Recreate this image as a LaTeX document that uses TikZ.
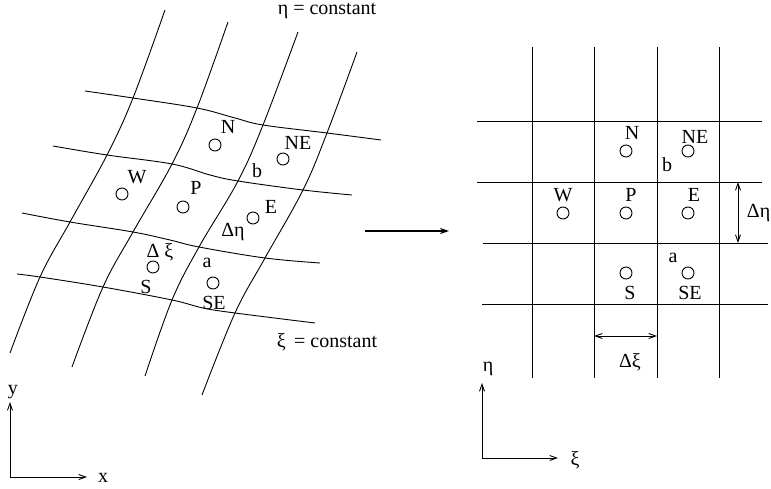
\documentclass[tikz,border=0pt]{standalone}
\usepackage{fontspec}
\setmainfont{Liberation Serif}
\usetikzlibrary{arrows.meta}
\tikzset{
  gl/.style={line width=0.9pt, line join=round},
  pt/.style={circle, draw, line width=0.9pt, minimum size=12pt, inner sep=0pt},
  lbl/.style={inner sep=0pt, font=\fontsize{20}{22}\selectfont},
  axis/.style={line width=0.9pt, -{Straight Barb[length=7pt,width=5pt]}},
  dim/.style={line width=0.9pt, {Straight Barb[length=7pt,width=5pt]}-{Straight Barb[length=7pt,width=5pt]}},
  big/.style={line width=2.2pt, -{Stealth[length=9pt,width=6pt]}}
}
\begin{document}
\begin{tikzpicture}[x=1pt,y=-1pt]
\useasboundingbox (0,0) rectangle (771,489);
% ---------- left curvilinear grid ----------
\draw[gl] plot[smooth, tension=0.6] coordinates {(165,10) (133,98) (107,155) (70,222) (40,277) (10,353)};
\draw[gl] plot[smooth, tension=0.6] coordinates {(228,22) (197,108) (172,164) (133,232) (103,287) (72,367)};
\draw[gl] plot[smooth, tension=0.6] coordinates {(298,32) (263,125) (238,181) (199,247) (172,300) (145,376)};
\draw[gl] plot[smooth, tension=0.6] coordinates {(357,52) (327,133) (303,190) (265,258) (235,313) (202,395)};
\draw[gl] plot[smooth, tension=0.6] coordinates {(85,91) (133,98) (197,108) (235,118) (263,125) (327,133) (381,140)};
\draw[gl] plot[smooth, tension=0.6] coordinates {(53,146) (107,155) (172,164) (210,175) (238,181) (303,190) (352,195)};
\draw[gl] plot[smooth, tension=0.6] coordinates {(22,213) (70,222) (133,232) (170,240) (199,247) (265,258) (320,263)};
\draw[gl] plot[smooth, tension=0.6] coordinates {(17,274) (40,277) (103,287) (172,300) (203,308) (235,313) (315,323)};
% left points
\node[pt] (lN)  at (215,145) {};
\node[pt] (lNE) at (283,159) {};
\node[pt] (lW)  at (122,194) {};
\node[pt] (lP)  at (183,207) {};
\node[pt] (lE)  at (253,218) {};
\node[pt] (lS)  at (153,267) {};
\node[pt] (lSE) at (213,283) {};
% left labels
\node[lbl] (tlN)  at (228,127) {N};
\node[lbl] (tlNE) at (298,143) {NE};
\node[lbl] (tlb)  at (257,171) {b};
\node[lbl] (tlW)  at (137,177) {W};
\node[lbl] (tlP)  at (196,188) {P};
\node[lbl] (tlE)  at (271,207) {E};
\node[lbl] (tldeta) at (233,232) {Δη};
\node[lbl] (tldxi)  at (160,252) {Δ ξ};
\node[lbl] (tlS)  at (146,287) {S};
\node[lbl] (tla)  at (207,263) {a};
\node[lbl] (tlSE) at (214,303) {SE};
\node[lbl] (etac) at (327,11) {η = constant};
\node[lbl] (xic)  at (327,342) {ξ\, = constant};
% left axes
\coordinate (lo) at (10,477);
\coordinate (ly) at (10,402);
\coordinate (lx) at (87,477);
\draw[axis] (lo) -- (ly);
\draw[axis] (lo) -- (lx);
\node[lbl] (tly) at (13,392) {y};
\node[lbl] (tlx) at (103,478) {x};
% central arrow
\coordinate (ma) at (365,231);
\coordinate (mb) at (449,231);
\draw[big] (ma) -- (mb);
% ---------- right cartesian grid ----------
\foreach \x in {532,594,657,719} \draw[gl] (\x,47) -- (\x,378);
\draw[gl] (477,121) -- (762,121);
\draw[gl] (477,182) -- (762,182);
\draw[gl] (483,243) -- (768,243);
\draw[gl] (482,304) -- (768,304);
% right points
\node[pt] (rN)  at (626,151) {};
\node[pt] (rNE) at (688,151) {};
\node[pt] (rW)  at (563,213) {};
\node[pt] (rP)  at (626,213) {};
\node[pt] (rE)  at (688,213) {};
\node[pt] (rS)  at (626,273) {};
\node[pt] (rSE) at (688,273) {};
% right labels
\node[lbl] (trN)  at (632,133) {N};
\node[lbl] (trNE) at (695,137) {NE};
\node[lbl] (trb)  at (667,165) {b};
\node[lbl] (trW)  at (563,195) {W};
\node[lbl] (trP)  at (631,195) {P};
\node[lbl] (trE)  at (694,195) {E};
\node[lbl] (tra)  at (673,258) {a};
\node[lbl] (trS)  at (630,293) {S};
\node[lbl] (trSE) at (690,293) {SE};
% dimension arrows
\coordinate (de1) at (738,182);
\coordinate (de2) at (738,243);
\draw[dim] (de1) -- (de2);
\node[lbl, anchor=east] (trdeta) at (770.5,213) {Δη};
\coordinate (dx1) at (594,336);
\coordinate (dx2) at (657,336);
\draw[dim] (dx1) -- (dx2);
\node[lbl] (trdxi) at (630,362) {Δξ};
% right axes
\coordinate (ro) at (482,458);
\coordinate (re) at (482,383);
\coordinate (rx) at (558,458);
\draw[axis] (ro) -- (re);
\draw[axis] (ro) -- (rx);
\node[lbl] (treta) at (488,369) {η};
\node[lbl] (trxi)  at (575,460) {ξ};
\end{tikzpicture}
\end{document}
